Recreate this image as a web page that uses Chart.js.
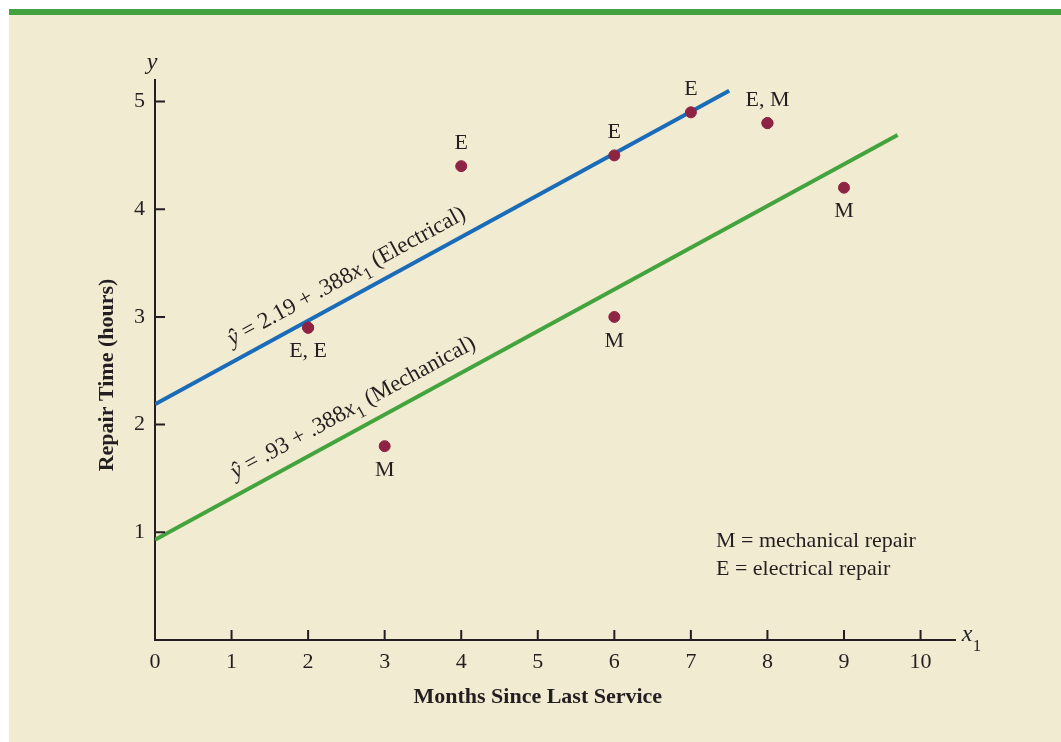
<!DOCTYPE html>
<html>
<head>
<meta charset="utf-8">
<script src="https://cdn.jsdelivr.net/npm/chart.js@4.4.1/dist/chart.umd.min.js"></script>
<style>
  html, body { margin: 0; padding: 0; background: #ffffff; }
  #topBar { position: absolute; left: 9px; top: 9px; width: 1052px; height: 6px; background: #41a23f; }
  #panel { position: absolute; left: 9px; top: 15px; width: 1052px; height: 727px; background: #f1ebd1; }
  #repairChart { position: absolute; left: 0; top: 0; }
</style>
</head>
<body>
<div id="topBar"></div>
<div id="panel"></div>
<canvas id="repairChart" width="1061" height="742"></canvas>
<script>
// observed repairs (months since service, repair time)
const monthsX = [2, 2, 3, 4, 6, 6, 7, 8, 8, 9];
const repairY = [2.9, 2.9, 1.8, 4.4, 4.5, 3.0, 4.9, 4.8, 4.8, 4.2];
// labels written next to each distinct point
const noteX = [2, 3, 4, 6, 6, 7, 8, 9];
const noteY = [2.9, 1.8, 4.4, 4.5, 3.0, 4.9, 4.8, 4.2];
const noteText = ['E, E', 'M', 'E', 'E', 'M', 'E', 'E, M', 'M'];
const noteAbove = [false, false, true, true, false, true, true, false];

// estimated regression lines (end points)
const elecLineX = [0, 7.5];
const elecLineY = [2.19, 5.1];
const mechLineX = [0, 9.7];
const mechLineY = [0.93, 4.69];

const xTickValues = [0, 1, 2, 3, 4, 5, 6, 7, 8, 9, 10];
const yTickValues = [1, 2, 3, 4, 5];

const INK = '#231f20';
const SERIF = '"Liberation Serif", "Times New Roman", serif';

function pairs(xs, ys) {
    return xs.map((x, i) => ({ x: x, y: ys[i] }));
}

// draws a run of text pieces centred at (0,0) in the current transform
function drawPieces(ctx, pieces, size) {
    const fontFor = (style) => {
        if (style === 'italic') return 'italic ' + size + 'px ' + SERIF;
        if (style === 'sub') return Math.round(size * 0.72) + 'px ' + SERIF;
        return size + 'px ' + SERIF;
    };
    let total = 0;
    pieces.forEach(p => { ctx.font = fontFor(p[1]); total += ctx.measureText(p[0]).width; });
    let x = -total / 2;
    pieces.forEach(p => {
        ctx.font = fontFor(p[1]);
        ctx.textAlign = 'left';
        ctx.textBaseline = 'alphabetic';
        ctx.fillText(p[0], x, p[1] === 'sub' ? size * 0.3 : 0);
        x += ctx.measureText(p[0]).width;
    });
}

const extrasPlugin = {
    id: 'extras',
    afterDraw(chart) {
        const ctx = chart.ctx;
        const xs = chart.scales.x;
        const ys = chart.scales.y;
        ctx.save();
        ctx.strokeStyle = INK;
        ctx.lineWidth = 2;
        ctx.fillStyle = INK;

        // inward ticks
        ctx.beginPath();
        xTickValues.forEach(v => {
            if (v === 0) return;
            const px = xs.getPixelForValue(v);
            ctx.moveTo(px, ys.bottom);
            ctx.lineTo(px, ys.bottom - 10);
        });
        yTickValues.forEach(v => {
            const py = ys.getPixelForValue(v);
            ctx.moveTo(xs.left, py);
            ctx.lineTo(xs.left + 10, py);
        });
        ctx.stroke();

        // point notes
        ctx.font = '22px ' + SERIF;
        ctx.textAlign = 'center';
        ctx.textBaseline = 'middle';
        noteText.forEach((t, i) => {
            const px = xs.getPixelForValue(noteX[i]);
            const py = ys.getPixelForValue(noteY[i]);
            ctx.fillText(t, px, noteAbove[i] ? py - 23 : py + 24);
        });

        // axis titles
        ctx.font = 'bold 22px ' + SERIF;
        ctx.fillText('Months Since Last Service', (xs.getPixelForValue(0) + xs.getPixelForValue(10)) / 2, 697);
        ctx.save();
        ctx.translate(107, 375);
        ctx.rotate(-Math.PI / 2);
        ctx.fillText('Repair Time (hours)', 0, 0);
        ctx.restore();

        // axis variable names
        ctx.font = 'italic 24px ' + SERIF;
        ctx.fillText('y', 152, 63);
        ctx.fillText('x', 967, 635);
        ctx.font = '17px ' + SERIF;
        ctx.fillText('1', 977, 647);

        // key
        ctx.font = '22px ' + SERIF;
        ctx.textAlign = 'left';
        ctx.fillText('M = mechanical repair', 716, 541);
        ctx.fillText('E = electrical repair', 716, 569);

        // equations along the lines
        const eqs = [
            { lx: elecLineX, ly: elecLineY, at: 2.63, off: -21,
              pieces: [['ŷ', 'italic'], [' = 2.19 + .388', 'n'], ['x', 'italic'], ['1', 'sub'], [' (Electrical)', 'n']] },
            { lx: mechLineX, ly: mechLineY, at: 2.72, off: -22,
              pieces: [['ŷ', 'italic'], [' = .93 + .388', 'n'], ['x', 'italic'], ['1', 'sub'], [' (Mechanical)', 'n']] }
        ];
        eqs.forEach(eq => {
            const x0 = xs.getPixelForValue(eq.lx[0]), y0 = ys.getPixelForValue(eq.ly[0]);
            const x1 = xs.getPixelForValue(eq.lx[1]), y1 = ys.getPixelForValue(eq.ly[1]);
            const ang = Math.atan2(y1 - y0, x1 - x0);
            const t = (eq.at - eq.lx[0]) / (eq.lx[1] - eq.lx[0]);
            ctx.save();
            ctx.translate(x0 + (x1 - x0) * t, y0 + (y1 - y0) * t);
            ctx.rotate(ang);
            ctx.translate(0, eq.off + 7);
            drawPieces(ctx, eq.pieces, 23);
            ctx.restore();
        });
        ctx.restore();
    }
};

new Chart(document.getElementById('repairChart').getContext('2d'), {
    type: 'scatter',
    data: {
        datasets: [
            {
                label: 'Electrical line',
                data: pairs(elecLineX, elecLineY),
                showLine: true,
                borderColor: '#1a6cb8',
                borderWidth: 4,
                pointRadius: 0,
                order: 2
            },
            {
                label: 'Mechanical line',
                data: pairs(mechLineX, mechLineY),
                showLine: true,
                borderColor: '#43a43e',
                borderWidth: 4,
                pointRadius: 0,
                order: 2
            },
            {
                label: 'Repairs',
                data: pairs(monthsX, repairY),
                backgroundColor: '#8e2444',
                borderColor: '#8e2444',
                pointRadius: 5.5,
                order: 1
            }
        ]
    },
    options: {
        responsive: false,
        animation: false,
        layout: { padding: { left: 0, top: 80, right: 106, bottom: 0 } },
        plugins: { legend: { display: false }, tooltip: { enabled: false } },
        scales: {
            x: {
                type: 'linear',
                min: 0,
                max: 10.45,
                grid: { display: false, drawTicks: false },
                border: { display: true, color: INK, width: 2 },
                afterFit: s => { s.height = 102; },
                afterBuildTicks: s => { s.ticks = xTickValues.map(v => ({ value: v })); },
                ticks: { color: INK, padding: 9, font: { family: SERIF, size: 22 }, maxRotation: 0 }
            },
            y: {
                type: 'linear',
                min: 0,
                max: 5.2,
                grid: { display: false, drawTicks: false },
                border: { display: true, color: INK, width: 2 },
                afterFit: s => { s.width = 155; },
                afterBuildTicks: s => { s.ticks = yTickValues.map(v => ({ value: v })); },
                ticks: { color: INK, padding: 10, font: { family: SERIF, size: 22 } }
            }
        }
    },
    plugins: [extrasPlugin]
});
</script>
</body>
</html>
